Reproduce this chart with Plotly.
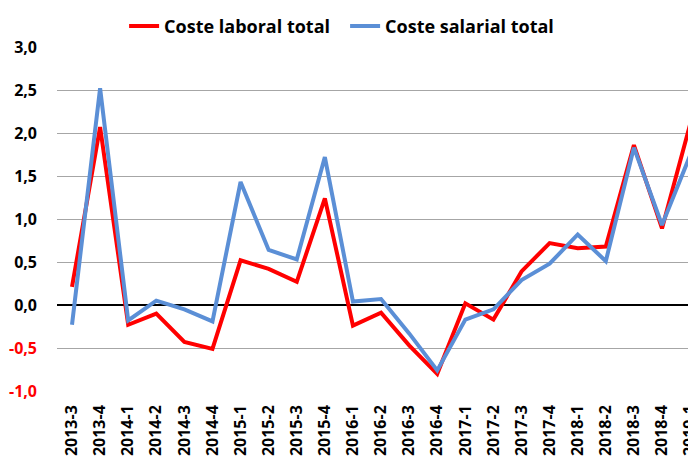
import plotly.graph_objects as go

quarters = ["2013-3","2013-4","2014-1","2014-2","2014-3","2014-4","2015-1","2015-2","2015-3","2015-4",
            "2016-1","2016-2","2016-3","2016-4","2017-1","2017-2","2017-3","2017-4","2018-1","2018-2",
            "2018-3","2018-4","2019-1"]
coste_laboral = [0.21, 2.07, -0.23, -0.10, -0.43, -0.51, 0.52, 0.42, 0.27, 1.24,
                 -0.24, -0.09, -0.47, -0.80, 0.02, -0.17, 0.39, 0.72, 0.66, 0.68,
                 1.86, 0.89, 2.10]
coste_salarial = [-0.23, 2.52, -0.18, 0.05, -0.05, -0.19, 1.43, 0.64, 0.53, 1.72,
                  0.04, 0.07, -0.33, -0.76, -0.17, -0.05, 0.29, 0.48, 0.82, 0.51,
                  1.83, 0.93, 1.74]
y_ticks = [-1.0, -0.5, 0.0, 0.5, 1.0, 1.5, 2.0, 2.5, 3.0]
y_ticklabels = ["-1,0", "-0,5", "0,0", "0,5", "1,0", "1,5", "2,0", "2,5", "3,0"]

ticktext = [f"<span style='color:#ff0000'>{t}</span>" if v < 0 else t
            for v, t in zip(y_ticks, y_ticklabels)]

fig = go.Figure()
fig.add_trace(go.Scatter(x=quarters, y=coste_laboral, mode="lines", name="Coste laboral total",
                         line=dict(color="#ff0000", width=4)))
fig.add_trace(go.Scatter(x=quarters, y=coste_salarial, mode="lines", name="Coste salarial total",
                         line=dict(color="#5b8fd6", width=4)))

font_family = "Open Sans, Liberation Sans, sans-serif"
# page body has an 8px default margin, so the figure is sized/offset to compensate
fig.update_layout(
    width=688, height=449,
    margin=dict(l=49, r=0, t=39, b=66, autoexpand=False),
    paper_bgcolor="white", plot_bgcolor="white",
    font=dict(family=font_family, color="black"),
    showlegend=True,
    legend=dict(orientation="h", x=0.105, xanchor="left", y=1.06, yanchor="middle",
                font=dict(size=18, family=font_family, color="black", weight="bold"),
                entrywidth=176, entrywidthmode="pixels",
                tracegroupgap=0, bgcolor="rgba(0,0,0,0)"),
    xaxis=dict(type="category", range=[-0.534, 22.21], showgrid=False, zeroline=False,
               tickangle=-90, tickfont=dict(size=16, family=font_family, color="black", weight="bold"),
               ticks="", showline=False, automargin=False, ticklabelstandoff=10),
    yaxis=dict(range=[-1.0, 3.0], tickvals=y_ticks, ticktext=ticktext,
               showgrid=True, gridcolor="#a6a6a6", gridwidth=1,
               zeroline=True, zerolinecolor="black", zerolinewidth=2,
               tickfont=dict(size=16, family=font_family, color="black", weight="bold"),
               ticks="", showline=False, ticklabelstandoff=19, automargin=False),
)
fig.write_html("out.html")
